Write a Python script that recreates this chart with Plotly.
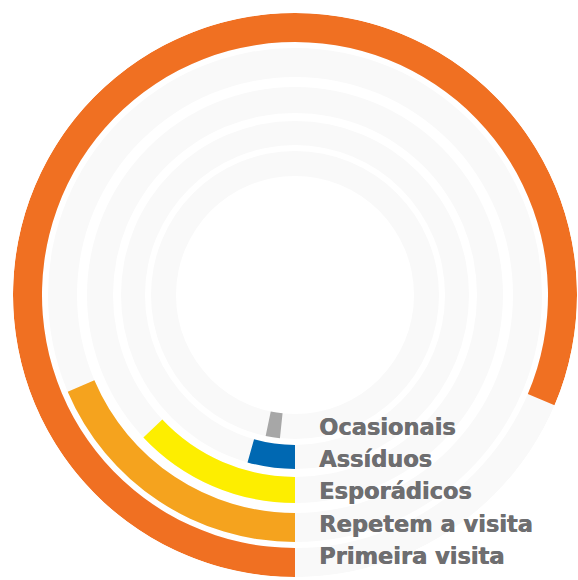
import plotly.graph_objects as go

# Visitor segments (share of visitors, %)
categories = ["Primeira visita", "Repetem a visita", "Esporádicos", "Assíduos", "Ocasionais"]
values = [81.4, 18.6, 13.0, 4.4, 1.6]
colors = ["#f07022", "#f5a31e", "#fdee00", "#0068b2", "#a7a7a7"]

# Ring geometry (radial units = pixels of the polar area)
ring_inner = [253, 218, 182, 150, 119]
ring_outer = [282, 247, 208, 174, 144]
start_angle = [0, 0, 0, 0, 6.0]   # angular offset where each bar begins (deg)

W, H = 578, 580
CX, CY, R = 295, 295, 282

fig = go.Figure()

# light background tracks
for lo, hi in zip(ring_inner, ring_outer):
    fig.add_trace(go.Barpolar(
        r=[hi - lo], base=[lo], theta=[180], width=[360],
        marker=dict(color="#f9f9f9", line=dict(width=0)),
        hoverinfo="skip", showlegend=False,
    ))

# value arcs, starting at the bottom and running clockwise
for name, v, c, lo, hi, s in zip(categories, values, colors, ring_inner, ring_outer, start_angle):
    span = v * 3.6
    fig.add_trace(go.Barpolar(
        r=[hi - lo], base=[lo], theta=[s + span / 2], width=[span],
        marker=dict(color=c, line=dict(width=0)),
        name=name, showlegend=False,
    ))

# category labels beside the bottom of the rings
label_x = 317
label_y0, label_step = 427.5, 32.0
for i, name in enumerate(reversed(categories)):
    fig.add_annotation(
        x=label_x / W, y=1 - (label_y0 + i * label_step) / H,
        xref="paper", yref="paper", xanchor="left", yanchor="middle",
        text=name, showarrow=False,
        font=dict(family="DejaVu Sans", size=22.5, color="#6e6e70", weight="bold",
                  shadow="0.6px 0 0 #6e6e70"),
    )

fig.update_layout(
    width=W, height=H,
    margin=dict(l=0, r=0, t=0, b=0),
    paper_bgcolor="white",
    polar=dict(
        domain=dict(x=[(CX - R) / W, (CX + R) / W], y=[1 - (CY + R) / H, 1 - (CY - R) / H]),
        bgcolor="white",
        barmode="overlay",
        angularaxis=dict(rotation=270, direction="clockwise", visible=False,
                         showgrid=False, showline=False, showticklabels=False),
        radialaxis=dict(range=[0, R], visible=False, showgrid=False,
                        showline=False, showticklabels=False),
    ),
)

fig.write_html("out.html")
